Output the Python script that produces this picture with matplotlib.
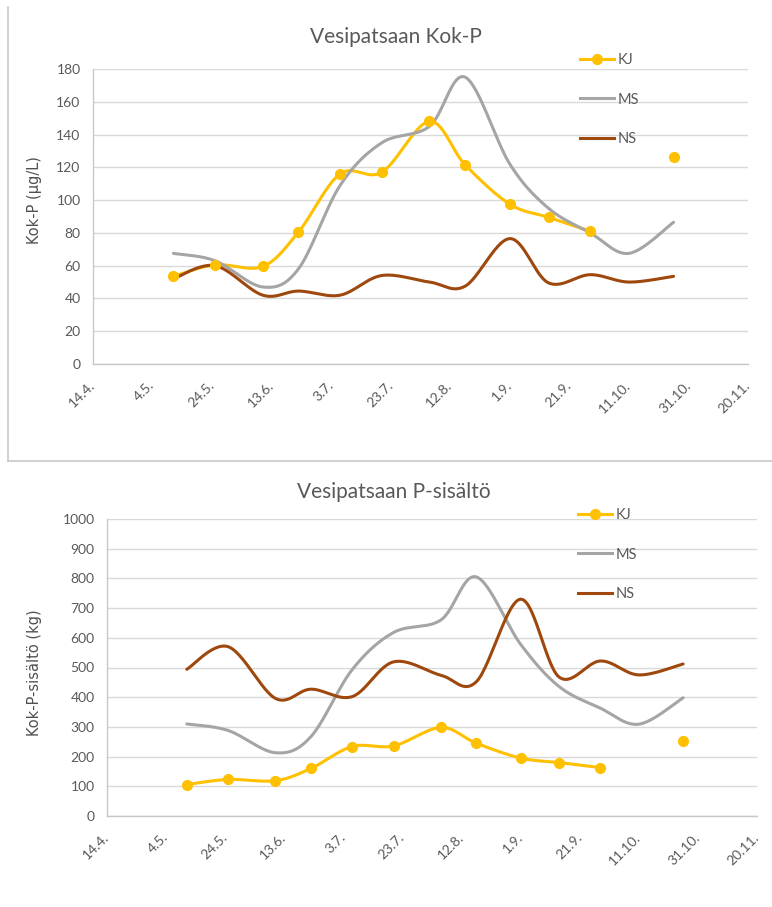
import numpy as np
import matplotlib
matplotlib.use("Agg")
import matplotlib.pyplot as plt
import matplotlib.dates as mdates
from matplotlib.lines import Line2D
import datetime as dt

plt.rcParams['font.family'] = ['Lato', 'DejaVu Sans']

# sampling dates (day.month.)
sample_dates = ["2019-05-11", "2019-05-25", "2019-06-10", "2019-06-22", "2019-07-06",
                "2019-07-20", "2019-08-05", "2019-08-17", "2019-09-01", "2019-09-14",
                "2019-09-28", "2019-10-11", "2019-10-26"]

# Vesipatsaan Kok-P (ug/L)
kokp_kj = [53.5, 60.5, 59.5, 80.5, 116, 117, 148, 121.5, 97.5, 89.5, 81, np.nan, 126]
kokp_ms = [67.5, 63, 47, 58, 109, 135, 145, 175, 122, 95, 80, 67.5, 86.5]
kokp_ns = [52, 60, 42, 44.5, 42, 54, 50, 47.5, 76.5, 49.5, 54.5, 50, 53.5]

# Vesipatsaan P-sisalto (kg)
psis_kj = [106, 123, 119, 160, 234, 236, 298, 245, 195, 180, 163, np.nan, 253]
psis_ms = [310, 288, 213, 267, 493, 618, 660, 805, 578, 436, 363, 309, 398]
psis_ns = [494, 570, 396, 427, 402, 519, 474, 452, 730, 468, 522, 475, 512]

series_names = ["KJ", "MS", "NS"]
colors = {"KJ": "#FFC000", "MS": "#A5A5A5", "NS": "#9E480E"}
TXT = "#595959"

x_start = dt.date(2019, 4, 14)
x_end = dt.date(2019, 11, 20)


def smooth(x, y, n=30):
    """Catmull-Rom style smoothing like Excel's smoothed lines, per unbroken run."""
    x = np.asarray(x, float)
    y = np.asarray(y, float)
    runs = []
    ok = ~np.isnan(y)
    i = 0
    while i < len(y):
        if ok[i]:
            j = i
            while j < len(y) and ok[j]:
                j += 1
            runs.append((x[i:j], y[i:j]))
            i = j
        else:
            i += 1
    out = []
    for xr, yr in runs:
        if len(xr) < 2:
            continue
        p = np.column_stack([xr, yr])
        pts = []
        for k in range(len(p) - 1):
            p0 = p[k - 1] if k > 0 else p[k]
            p1 = p[k]
            p2 = p[k + 1]
            p3 = p[k + 2] if k + 2 < len(p) else p[k + 1]
            c1 = p1 + (p2 - p0) / 6.0
            c2 = p2 - (p3 - p1) / 6.0
            t = np.linspace(0, 1, n)[:, None]
            b = ((1 - t) ** 3) * p1 + 3 * ((1 - t) ** 2) * t * c1 + 3 * (1 - t) * t ** 2 * c2 + t ** 3 * p2
            pts.append(b if k == 0 else b[1:])
        out.append(np.vstack(pts))
    return out


def draw_chart(fig, rect, title, title_xy, ylabel, ylabel_xy, data, ymax, ystep, legend_xy):
    ax = fig.add_axes(rect)
    x = mdates.date2num([dt.date.fromisoformat(d) for d in sample_dates])
    for name in ["KJ", "MS", "NS"]:
        y = data[name]
        for seg in smooth(x, y):
            ax.plot(seg[:, 0], seg[:, 1], color=colors[name], lw=2.2,
                    solid_capstyle='round', zorder=3)
        if name == "KJ":
            ax.plot(x, y, 'o', color=colors[name], ms=7, zorder=4)

    ax.set_xlim(mdates.date2num(x_start), mdates.date2num(x_end))
    ax.set_ylim(0, ymax)
    tick_days = [x_start + dt.timedelta(days=20 * k) for k in range(12)]
    ax.set_xticks(mdates.date2num(tick_days))
    ax.set_xticklabels([f"{d.day}.{d.month}." for d in tick_days])
    ax.set_yticks(np.arange(0, ymax + 1, ystep))
    ax.tick_params(axis='both', length=0, labelsize=10, colors=TXT)
    ax.tick_params(axis='y', pad=9)
    ax.tick_params(axis='x', pad=14)
    for lab in ax.get_xticklabels():
        lab.set_rotation(45)
        lab.set_ha('right')
        lab.set_va('center')
        lab.set_rotation_mode('anchor')
    ax.grid(axis='y', color='#D9D9D9', lw=1.0)
    ax.set_axisbelow(True)
    for s in ['top', 'right']:
        ax.spines[s].set_visible(False)
    for s in ['left', 'bottom']:
        ax.spines[s].set_color('#C8C8C8')
        ax.spines[s].set_linewidth(1.0)

    fig.text(title_xy[0], title_xy[1], title, ha='center', va='center',
             fontsize=15, color=TXT)
    fig.text(ylabel_xy[0], ylabel_xy[1], ylabel, ha='center', va='center',
             rotation=90, fontsize=10.5, color='#505050', family='DejaVu Sans')

    handles = [Line2D([], [], color=colors["KJ"], lw=2.2, marker='o', ms=7),
               Line2D([], [], color=colors["MS"], lw=2.2),
               Line2D([], [], color=colors["NS"], lw=2.2)]
    fig.legend(handles, series_names, loc='upper left', bbox_to_anchor=legend_xy,
               frameon=False, fontsize=10.5, labelcolor=TXT, handlelength=2.3,
               handletextpad=0.25, labelspacing=1.75, borderpad=0, borderaxespad=0)
    return ax


W, H = 772, 907
fig = plt.figure(figsize=(W / 100, H / 100), dpi=100)

draw_chart(fig, [93 / W, 1 - 364 / H, 655 / W, 295 / H],
           "Vesipatsaan Kok-P", (396 / W, 1 - 37 / H),
           "Kok-P (µg/L)", (35 / W, 1 - 200 / H),
           {"KJ": kokp_kj, "MS": kokp_ms, "NS": kokp_ns}, 180, 20,
           (580 / W, 1 - 53 / H))

draw_chart(fig, [107 / W, 1 - 816 / H, 650 / W, 297 / H],
           "Vesipatsaan P-sisältö", (394 / W, 1 - 492 / H),
           "Kok-P-sisältö (kg)", (35 / W, 1 - 673 / H),
           {"KJ": psis_kj, "MS": psis_ms, "NS": psis_ns}, 1000, 100,
           (578 / W, 1 - 508 / H))

# border of the upper chart box
fig.add_artist(Line2D([8 / W, 8 / W], [1 - 7 / H, 1 - 461 / H], color='#C8C8C8', lw=1.2))
fig.add_artist(Line2D([8 / W, 1.0], [1 - 461 / H, 1 - 461 / H], color='#C8C8C8', lw=1.2))

fig.savefig("out.png", dpi=100)
